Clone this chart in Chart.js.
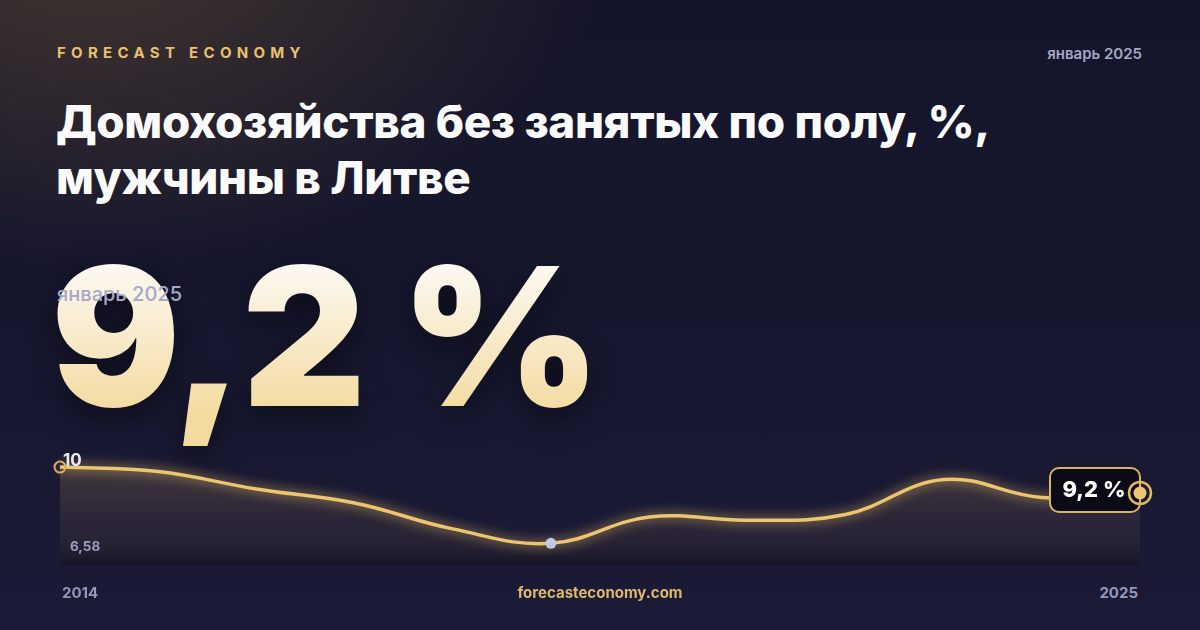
<!DOCTYPE html>
<html><head><meta charset="utf-8">
<script src="https://cdn.jsdelivr.net/npm/chart.js@4.4.1/dist/chart.umd.min.js"></script>
<style>
html,body{margin:0;padding:0;width:1200px;height:630px;overflow:hidden;background:#16162b;font-family:Inter,'Noto Sans',sans-serif;}
#bg{position:absolute;left:0;top:0;width:1200px;height:630px;background:
 radial-gradient(ellipse 720px 460px at 90px -60px, rgba(105,82,52,0.55), rgba(105,82,52,0) 72%),
 linear-gradient(180deg,#15152a 0%,#16162d 45%,#1b1b37 100%);}
.t{position:absolute;white-space:nowrap;}
.brand{left:57px;top:43px;font-weight:700;font-size:15px;letter-spacing:5.3px;color:#e7c171;}
.date{right:58px;top:44px;font-weight:600;font-size:15px;color:#a4a7c5;}
.title{left:56px;top:94px;font-weight:800;font-size:45.8px;line-height:56px;color:#fbfbfd;letter-spacing:-0.35px;}
.big{left:51px;top:220px;font-weight:900;font-size:192px;line-height:232px;letter-spacing:-2px;
 background:linear-gradient(180deg,#fdfbf7 15%,#f3da9e 85%);-webkit-background-clip:text;background-clip:text;color:transparent;
 filter:drop-shadow(0 10px 16px rgba(0,0,0,0.45));}
.sub{left:57px;top:282px;font-size:20px;font-weight:500;color:#a6a9c8;}
.ymax{left:63px;top:452px;font-weight:700;font-size:17px;color:#ecebf2;line-height:17px;}
.ymin{left:70px;top:539px;font-weight:700;font-size:13.5px;color:#9a9dbd;line-height:14px;}
.x0{left:62px;top:583px;font-weight:700;font-size:15px;color:#9598b9;}
.x1{right:62px;top:583px;font-weight:700;font-size:15px;color:#9598b9;}
.site{left:0;width:1200px;text-align:center;top:583px;font-weight:700;font-size:15px;color:#dcb86c;}
#wrap{position:absolute;left:0;top:430px;width:1200px;height:150px;}
</style></head>
<body>
<div id="bg"></div>
<div class="t brand">FORECAST ECONOMY</div>
<div class="t date" id="date1"></div>
<div class="t title">Домохозяйства без занятых по полу, %,<br>мужчины в Литве</div>
<div class="t big" id="big"></div>
<div class="t sub" id="date2"></div>
<div id="wrap"><canvas id="c" width="1200" height="150"></canvas></div>
<div class="t ymax" id="ymax"></div>
<div class="t ymin" id="ymin"></div>
<div class="t x0" id="x0"></div>
<div class="t x1" id="x1"></div>
<div class="t site">forecasteconomy.com</div>
<script>
const years = ['2014','2015','2016','2017','2018','2019','2020','2021','2022','2023','2024','2025'];
const values = [10.55, 10.32, 9.41, 8.68, 7.33, 6.58, 7.95, 7.78, 8.08, 9.90, 8.97, 9.2];
const yTickLabels = ['10', '6,58'];
const xTickLabels = ['2014', '2025'];
const periodLabel = 'январь 2025';

const fmt = v => String(v).replace('.', ',') + ' %';
const last = values[values.length - 1];
document.getElementById('big').textContent = fmt(last);
document.getElementById('date1').textContent = periodLabel;
document.getElementById('date2').textContent = periodLabel;
document.getElementById('ymax').textContent = yTickLabels[0];
document.getElementById('ymin').textContent = yTickLabels[1];
document.getElementById('x0').textContent = xTickLabels[0];
document.getElementById('x1').textContent = xTickLabels[1];

const glow = {
  id: 'glow',
  beforeDatasetDraw(chart, args) {
    if (args.index === 0) { const c = chart.ctx; c.save(); c.shadowColor = 'rgba(240,198,105,0.95)'; c.shadowBlur = 12; }
  },
  afterDatasetDraw(chart, args) { if (args.index === 0) chart.ctx.restore(); }
};
const marks = {
  id: 'marks',
  afterDatasetsDraw(chart) {
    const c = chart.ctx, xs = chart.scales.x, ys = chart.scales.y;
    const n = values.length;
    const px = i => xs.getPixelForValue(i), py = i => ys.getPixelForValue(values[i]);
    c.save();
    c.strokeStyle = '#d7af5e'; c.lineWidth = 2;
    c.beginPath(); c.arc(px(0), py(0), 5.5, 0, Math.PI * 2); c.stroke();
    let mi = 0; values.forEach((v, i) => { if (v < values[mi]) mi = i; });
    c.fillStyle = '#c3c7df';
    c.beginPath(); c.arc(px(mi), py(mi), 5.5, 0, Math.PI * 2); c.fill();
    const xe = px(n - 1), ye = py(n - 1);
    c.beginPath(); c.roundRect(xe - 90, ye - 25, 90, 44, 9);
    c.fillStyle = '#0b0b17'; c.fill();
    c.strokeStyle = '#d9b464'; c.lineWidth = 2; c.stroke();
    c.fillStyle = '#ffffff'; c.font = '800 22px Inter, sans-serif';
    c.textAlign = 'center'; c.textBaseline = 'middle';
    c.fillText(fmt(last), xe - 46, ye - 3);
    c.strokeStyle = '#dfb864'; c.lineWidth = 2.5;
    c.beginPath(); c.arc(xe, ye, 11, 0, Math.PI * 2); c.stroke();
    c.fillStyle = '#e9c777';
    c.beginPath(); c.arc(xe, ye, 6.5, 0, Math.PI * 2); c.fill();
    c.restore();
  }
};

new Chart(document.getElementById('c'), {
  type: 'line',
  data: {
    labels: years,
    datasets: [
      { data: values, borderColor: '#ecc56e', borderWidth: 3.5, tension: 0.4, fill: false, pointRadius: 0, clip: false },
      { data: values, borderWidth: 0, tension: 0.4, pointRadius: 0,
        fill: 'start',
        backgroundColor: (ctx) => {
          const a = ctx.chart.chartArea; if (!a) return 'rgba(0,0,0,0)';
          const g = ctx.chart.ctx.createLinearGradient(0, a.top + 15, 0, a.bottom);
          g.addColorStop(0, 'rgba(200,160,100,0.24)');
          g.addColorStop(0.6, 'rgba(130,100,75,0.16)');
          g.addColorStop(1, 'rgba(12,12,20,0.4)');
          return g;
        } }
    ]
  },
  options: {
    responsive: false, animation: false, devicePixelRatio: 1,
    layout: { padding: { left: 60, right: 60, top: 20, bottom: 15 } },
    plugins: { legend: { display: false }, tooltip: { enabled: false } },
    scales: {
      x: { display: false, offset: false },
      y: { display: false, min: 5.45, max: 11.44 }
    }
  },
  plugins: [glow, marks]
});
</script>
</body></html>
